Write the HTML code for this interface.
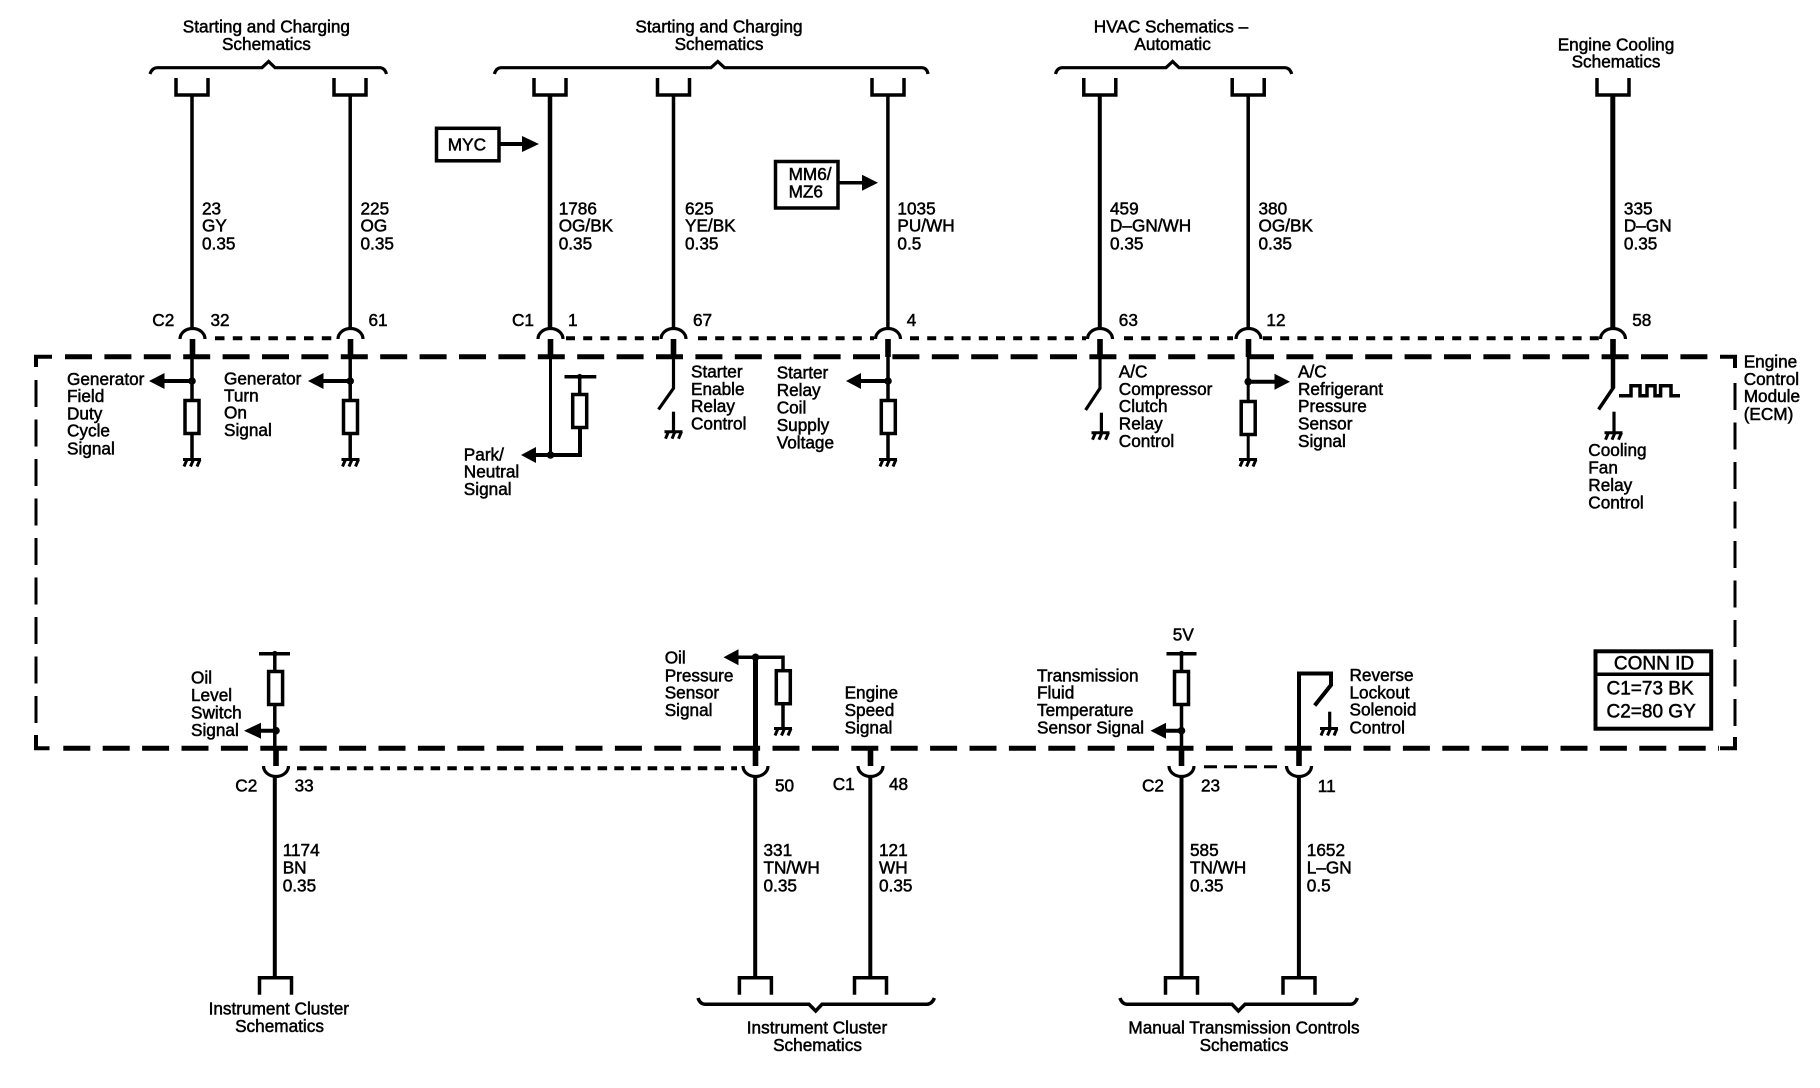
<!DOCTYPE html>
<html>
<head>
<meta charset="utf-8">
<title>ECM Schematic</title>
<style>
html,body{margin:0;padding:0;background:#fff;width:1820px;height:1088px;overflow:hidden}
svg{display:block}
text{font-family:"Liberation Sans",Arial,sans-serif;font-size:17.200px;fill:#000;stroke:#000;stroke-width:.5px;transform:translateY(-.6px)}
.c{text-anchor:middle}
.big{font-size:19px}
.l{fill:none;stroke:#000;stroke-linejoin:miter;stroke-linecap:butt}
.h{fill:#000;stroke:none}
</style>
</head>
<body>
<svg width="1820" height="1088" viewBox="0 0 1820 1088" xmlns="http://www.w3.org/2000/svg">
<defs>
<g id="gnd"><path class="l" stroke-width="3" d="M-9 0H9M-8 7L-5 0M-1.500 7L1.500 0M5 7L8 0"/></g>
<g id="ut"><path class="l" stroke-width="3.500" d="M-16 -18V-1H16V-18"/></g>
<g id="ub"><path class="l" stroke-width="3.500" d="M-16 18V1H16V18"/></g>
<g id="at"><path class="l" stroke-width="3.200" d="M-12.500 11A12.500 10.500 0 0 1 12.500 11"/><rect class="h" x="-2.800" y="11" width="5.600" height="18"/></g>
<g id="ab"><path class="l" stroke-width="3.200" d="M-12.500 -11A12.500 10.500 0 0 0 12.500 -11"/><rect class="h" x="-2.800" y="-29" width="5.600" height="18"/></g>
<g id="res"><rect x="-7" y="0" width="14" height="33" fill="#fff" stroke="#000" stroke-width="3.500"/></g>
<g id="dl"><circle class="h" r="3.800"/></g>
</defs>

<!-- module outline -->
<path class="l" stroke-width="5" stroke-dasharray="27 12.400" d="M65 356.700H1719"/>
<path class="l" stroke-width="5" stroke-dasharray="27 12.400" d="M63.300 748.300H1719"/>
<path class="l" stroke-width="3" stroke-dasharray="27 12.500" d="M36 380V724"/>
<path class="l" stroke-width="3" stroke-dasharray="27 12.500" d="M1735 383V726"/>
<path class="l" stroke-width="4" d="M36 367V356.700H52"/>
<path class="l" stroke-width="4" d="M36 735V748.300H49.500"/>
<path class="l" stroke-width="4" d="M1720 356.700H1735V368"/>
<path class="l" stroke-width="4" d="M1720 748.300H1735V737"/>

<!-- top braces -->
<path class="l" stroke-width="3.200" d="M150 74Q152 68 157 67.700H262L268.600 61.500L275 67.700H380Q385 68 386.500 74"/>
<path class="l" stroke-width="3.200" d="M494.400 74Q496 68 501 67.700H711L717.800 61.500L724.500 67.700H922Q927 68 928 74"/>
<path class="l" stroke-width="3.200" d="M1055.500 74Q1057 68 1062 67.700H1166L1172.600 61.500L1179 67.700H1285Q1290 68 1291.700 74"/>

<!-- top connector brackets -->
<use href="#ut" x="192" y="96"/><use href="#ut" x="350" y="96"/><use href="#ut" x="550" y="96"/>
<use href="#ut" x="673.500" y="96"/><use href="#ut" x="888" y="96"/><use href="#ut" x="1099.800" y="96"/>
<use href="#ut" x="1248.200" y="96"/><use href="#ut" x="1613" y="96"/>

<!-- top wires -->
<path class="l" stroke-width="3.500" d="M192 96V330M350.200 96V330M673.500 96V330M887.900 96V330M1248.200 96V330"/>
<path class="l" stroke-width="4.500" d="M550 96V330"/>
<path class="l" stroke-width="4" d="M1099.800 96V330"/>
<path class="l" stroke-width="5" d="M1612.800 96V330"/>

<!-- top connectors -->
<use href="#at" x="192.500" y="328"/><use href="#at" x="350.500" y="328"/><use href="#at" x="550.500" y="328"/>
<use href="#at" x="673.500" y="328"/><use href="#at" x="888" y="328"/><use href="#at" x="1100" y="328"/>
<use href="#at" x="1248.500" y="328"/><use href="#at" x="1613" y="328"/>

<!-- top shield dotted -->
<path class="l" stroke-width="4" stroke-dasharray="9.500 8.300" d="M215 338.300H338"/>
<path class="l" stroke-width="4" stroke-dasharray="9 8.200" d="M566 338.300H659M698 338.300H874M910 338.300H1086M1124 338.300H1233M1263 338.300H1599"/>

<!-- W1 internals -->
<path class="l" stroke-width="3.500" d="M192 356V399M192 434V459"/>
<path class="l" stroke-width="4" d="M162 381H192"/>
<use href="#dl" x="192" y="381"/>
<path class="h" d="M149 381L164.500 373V389Z"/>
<use href="#res" x="192" y="400.500"/>
<use href="#gnd" x="192" y="459.500"/>

<!-- W2 internals -->
<path class="l" stroke-width="3.500" d="M350.200 356V399M350.200 434V459"/>
<path class="l" stroke-width="4" d="M321 381H350"/>
<use href="#dl" x="350.200" y="381"/>
<path class="h" d="M308 381L323.500 373V389Z"/>
<use href="#res" x="350.500" y="400.500"/>
<use href="#gnd" x="350.500" y="459.500"/>

<!-- W3 internals -->
<path class="l" stroke-width="3" d="M550.500 356V455"/>
<path class="l" stroke-width="4" d="M534 455H580V427"/>
<use href="#dl" x="550.500" y="455"/>
<path class="h" d="M521 455L536 447V463Z"/>
<use href="#res" x="579.700" y="394.500"/>
<path class="l" stroke-width="3.500" d="M579.700 394V376.700M564.500 376.700H596.300"/>
<circle class="h" cx="579.700" cy="376.700" r="2.800"/>

<!-- W4 internals -->
<path class="l" stroke-width="3.200" d="M673.500 356V388.300L658.500 409.500"/>
<path class="l" stroke-width="3.200" d="M673.500 411.700V431"/>
<use href="#gnd" x="673.500" y="431.700"/>

<!-- W5 internals -->
<path class="l" stroke-width="3.500" d="M888 356V399M888 434V459"/>
<path class="l" stroke-width="4" d="M859 381H888"/>
<use href="#dl" x="888" y="381"/>
<path class="h" d="M846 381L861 373V389Z"/>
<use href="#res" x="888.300" y="400.500"/>
<use href="#gnd" x="888" y="459.500"/>

<!-- W6 internals -->
<path class="l" stroke-width="3.200" d="M1100 356V388.300L1085.600 410"/>
<path class="l" stroke-width="3.200" d="M1101.400 412.700V432"/>
<use href="#gnd" x="1100.500" y="432.700"/>

<!-- W7 internals -->
<path class="l" stroke-width="3" d="M1248.200 356V401M1248.200 434V459"/>
<path class="l" stroke-width="4" d="M1248 381.700H1277"/>
<use href="#dl" x="1248.200" y="381.700"/>
<path class="h" d="M1290 381.700L1274.500 373.700V389.700Z"/>
<use href="#res" x="1248.200" y="401.500"/>
<use href="#gnd" x="1248" y="459.500"/>

<!-- W8 internals -->
<path class="l" stroke-width="4.500" d="M1613 356V388"/>
<path class="l" stroke-width="3.500" d="M1613.800 387L1598.600 409.500"/>
<path class="l" stroke-width="3.200" d="M1614 411.700V432"/>
<use href="#gnd" x="1613.500" y="432.700"/>
<path class="l" stroke-width="3.500" d="M1619 395.700H1631V385.700H1640V395.700H1647V385.700H1655V395.700H1660.600V385.700H1671V395.700H1680"/>

<!-- option boxes -->
<rect x="436.500" y="128.300" width="62.500" height="32.500" fill="#fff" stroke="#000" stroke-width="3.500"/>
<path class="l" stroke-width="4" d="M499 144H525"/>
<path class="h" d="M539 144L522 136V152Z"/>
<rect x="775.500" y="161.500" width="62.500" height="46.500" fill="#fff" stroke="#000" stroke-width="3.500"/>
<path class="l" stroke-width="3.500" d="M838 182.700H864"/>
<path class="h" d="M878 182.700L862 174.700V190.700Z"/>

<!-- lower wires -->
<path class="l" stroke-width="4" d="M274.800 776V977M755.200 776V977M870.300 776V977M1181.500 776V977M1298.900 776V977"/>
<use href="#ab" x="276" y="777"/><use href="#ab" x="755.500" y="777"/><use href="#ab" x="870.500" y="777"/>
<use href="#ab" x="1181.500" y="777"/><use href="#ab" x="1299" y="777"/>
<use href="#ub" x="275.500" y="976.700"/><use href="#ub" x="755.400" y="976.700"/><use href="#ub" x="870.500" y="976.700"/>
<use href="#ub" x="1181.500" y="976.700"/><use href="#ub" x="1299" y="976.700"/>

<!-- lower shield dotted -->
<path class="l" stroke-width="4" stroke-dasharray="9.500 7.200" d="M297 768.300H737"/>
<path class="l" stroke-width="3" stroke-dasharray="13 7" d="M1204 766.700H1279"/>

<!-- lower left internals -->
<path class="l" stroke-width="3.500" d="M274.800 748V705M274.800 671V653.700M259 653.700H290"/>
<circle class="h" cx="274.800" cy="653.700" r="2.800"/>
<use href="#res" x="275.600" y="671.500"/>
<path class="l" stroke-width="4" d="M259 730.700H276"/>
<use href="#dl" x="276" y="730.700"/>
<path class="h" d="M244 730.700L261 722.700V738.700Z"/>

<!-- oil pressure -->
<path class="l" stroke-width="5" d="M755.500 748V657"/>
<path class="l" stroke-width="3.500" d="M737 657.300H783V671M783 703V728"/>
<use href="#dl" x="755.500" y="657.300"/>
<path class="h" d="M723.500 657.300L738.500 649.300V665.300Z"/>
<use href="#res" x="783.300" y="670.700"/>
<use href="#gnd" x="783" y="728.500"/>

<!-- transmission fluid -->
<path class="l" stroke-width="3.500" d="M1181.500 748V705M1181.500 671V653.700M1166.500 653.700H1196.500"/>
<circle class="h" cx="1181.500" cy="653.700" r="2.800"/>
<use href="#res" x="1181.500" y="671.500"/>
<path class="l" stroke-width="4" d="M1164 730.700H1181.500"/>
<use href="#dl" x="1181.500" y="730.700"/>
<path class="h" d="M1150.500 730.700L1166 722.700V738.700Z"/>

<!-- reverse lockout -->
<path class="l" stroke-width="4" d="M1299 748V673.500H1331V685L1314.700 705.500"/>
<path class="l" stroke-width="3.200" d="M1329.700 711.700V728"/>
<use href="#gnd" x="1329" y="728.500"/>

<!-- lower braces -->
<path class="l" stroke-width="3.500" d="M698 998Q700 1004 705 1004.300H809L815.700 1011L822 1004.300H927Q932 1004 934.400 998"/>
<path class="l" stroke-width="3.500" d="M1120 998Q1122 1004 1127 1004.300H1232L1238.400 1011L1245 1004.300H1351Q1355 1004 1357.400 998"/>

<!-- CONN ID -->
<rect x="1595.500" y="651.300" width="115.700" height="77.400" fill="#fff" stroke="#000" stroke-width="4"/>
<path class="l" stroke-width="3.500" d="M1595.500 674.300H1711"/>

<!-- titles -->
<text class="c" x="266.400" y="33.300">Starting and Charging</text>
<text class="c" x="266.400" y="50.700">Schematics</text>
<text class="c" x="719" y="33.300">Starting and Charging</text>
<text class="c" x="719" y="50.700">Schematics</text>
<text class="c" x="1171" y="33.300">HVAC Schematics –</text>
<text class="c" x="1172.600" y="50.700">Automatic</text>
<text class="c" x="1616" y="51">Engine Cooling</text>
<text class="c" x="1616" y="68.300">Schematics</text>

<!-- circuit labels top -->
<text x="202" y="215">23</text><text x="202" y="232.300">GY</text><text x="202" y="250">0.35</text>
<text x="360.500" y="215">225</text><text x="360.500" y="232.300">OG</text><text x="360.500" y="250">0.35</text>
<text x="558.700" y="215">1786</text><text x="558.700" y="232.300">OG/BK</text><text x="558.700" y="250">0.35</text>
<text x="685" y="215">625</text><text x="685" y="232.300">YE/BK</text><text x="685" y="250">0.35</text>
<text x="897.400" y="215">1035</text><text x="897.400" y="232.300">PU/WH</text><text x="897.400" y="250">0.5</text>
<text x="1110" y="215">459</text><text x="1110" y="232.300">D–GN/WH</text><text x="1110" y="250">0.35</text>
<text x="1258.500" y="215">380</text><text x="1258.500" y="232.300">OG/BK</text><text x="1258.500" y="250">0.35</text>
<text x="1623.900" y="215">335</text><text x="1623.900" y="232.300">D–GN</text><text x="1623.900" y="250">0.35</text>

<text x="447.800" y="151">MYC</text>
<text x="788.600" y="180.700">MM6/</text><text x="788.600" y="198.300">MZ6</text>

<!-- pin labels top -->
<text x="152.300" y="326.700">C2</text><text x="210.500" y="326.700">32</text>
<text x="368.500" y="326.700">61</text>
<text x="512" y="326.700">C1</text><text x="568" y="326.700">1</text>
<text x="693" y="326.700">67</text><text x="906.800" y="326.700">4</text>
<text x="1118.800" y="326.700">63</text><text x="1266.400" y="326.700">12</text><text x="1632.200" y="326.700">58</text>

<!-- signal labels top -->
<text x="67" y="385.700">Generator</text><text x="67" y="402.700">Field</text><text x="67" y="420">Duty</text><text x="67" y="437.300">Cycle</text><text x="67" y="455">Signal</text>
<text x="224" y="385">Generator</text><text x="224" y="402.300">Turn</text><text x="224" y="419.300">On</text><text x="224" y="436.700">Signal</text>
<text x="463.800" y="461">Park/</text><text x="463.800" y="478.300">Neutral</text><text x="463.800" y="495.700">Signal</text>
<text x="691" y="378.300">Starter</text><text x="691" y="395.700">Enable</text><text x="691" y="412.700">Relay</text><text x="691" y="430">Control</text>
<text x="776.700" y="379">Starter</text><text x="776.700" y="396.700">Relay</text><text x="776.700" y="414">Coil</text><text x="776.700" y="431.700">Supply</text><text x="776.700" y="449">Voltage</text>
<text x="1118.800" y="378.300">A/C</text><text x="1118.800" y="395.700">Compressor</text><text x="1118.800" y="412.700">Clutch</text><text x="1118.800" y="430">Relay</text><text x="1118.800" y="447.700">Control</text>
<text x="1298" y="378.300">A/C</text><text x="1298" y="395.700">Refrigerant</text><text x="1298" y="412.700">Pressure</text><text x="1298" y="430">Sensor</text><text x="1298" y="447.700">Signal</text>
<text x="1588.300" y="456.700">Cooling</text><text x="1588.300" y="474.300">Fan</text><text x="1588.300" y="491.700">Relay</text><text x="1588.300" y="509">Control</text>
<text x="1743.700" y="368.300">Engine</text><text x="1743.700" y="385.700">Control</text><text x="1743.700" y="402.700">Module</text><text x="1743.700" y="420.700">(ECM)</text>

<!-- signal labels bottom -->
<text x="191" y="684">Oil</text><text x="191" y="701.700">Level</text><text x="191" y="719">Switch</text><text x="191" y="736.700">Signal</text>
<text x="664.700" y="664.300">Oil</text><text x="664.700" y="682.300">Pressure</text><text x="664.700" y="699.300">Sensor</text><text x="664.700" y="716.700">Signal</text>
<text x="844.600" y="699">Engine</text><text x="844.600" y="716.700">Speed</text><text x="844.600" y="734">Signal</text>
<text x="1172.800" y="641">5V</text>
<text x="1037" y="682.300">Transmission</text><text x="1037" y="699.300">Fluid</text><text x="1037" y="716.700">Temperature</text><text x="1037" y="734">Sensor Signal</text>
<text x="1349.500" y="681.700">Reverse</text><text x="1349.500" y="699">Lockout</text><text x="1349.500" y="716">Solenoid</text><text x="1349.500" y="734">Control</text>

<!-- pin labels bottom -->
<text x="235.300" y="792.300">C2</text><text x="294.600" y="792.300">33</text>
<text x="775" y="792.300">50</text>
<text x="832.700" y="790.700">C1</text><text x="889" y="790.700">48</text>
<text x="1142" y="792.300">C2</text><text x="1201" y="792.300">23</text>
<text x="1317.800" y="792.700">11</text>

<!-- circuit labels bottom -->
<text x="282.700" y="856.700">1174</text><text x="282.700" y="874">BN</text><text x="282.700" y="892.300">0.35</text>
<text x="763.500" y="856.700">331</text><text x="763.500" y="874">TN/WH</text><text x="763.500" y="892.300">0.35</text>
<text x="879" y="856.700">121</text><text x="879" y="874">WH</text><text x="879" y="892.300">0.35</text>
<text x="1190" y="856.700">585</text><text x="1190" y="874">TN/WH</text><text x="1190" y="892.300">0.35</text>
<text x="1306.800" y="856.700">1652</text><text x="1306.800" y="874">L–GN</text><text x="1306.800" y="892.300">0.5</text>

<!-- bottom titles -->
<text class="c" x="278.800" y="1015">Instrument Cluster</text>
<text class="c" x="279.500" y="1032.700">Schematics</text>
<text class="c" x="817" y="1034.300">Instrument Cluster</text>
<text class="c" x="817.500" y="1051.700">Schematics</text>
<text class="c" x="1244" y="1034.300">Manual Transmission Controls</text>
<text class="c" x="1244" y="1051.700">Schematics</text>

<!-- conn id text -->
<text class="c big" x="1654" y="670">CONN ID</text>
<text class="big" x="1606.500" y="695">C1=73 BK</text>
<text class="big" x="1606.500" y="718.300">C2=80 GY</text>
</svg>
</body>
</html>
